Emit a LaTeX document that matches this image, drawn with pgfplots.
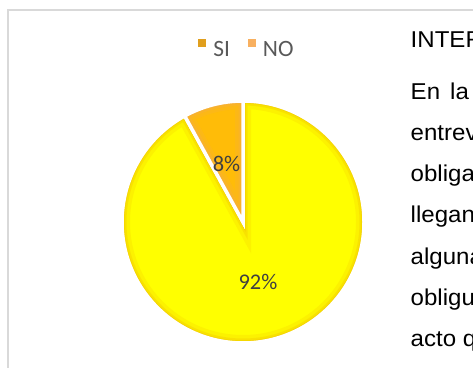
\documentclass[border=0pt]{standalone}
\usepackage{pgfplots}
\pgfplotsset{compat=1.18}
\usepackage{pgfplotstable}
\usepackage{fontspec}
\setmainfont{Liberation Sans}[FakeStretch=1.05]
\newfontfamily\carlito{Carlito}

\definecolor{pieY}{HTML}{FFFF00}
\definecolor{pieYrim}{HTML}{F0C000}
\definecolor{pieO}{HTML}{FFBC08}
\definecolor{pieOrim}{HTML}{F4AC50}
\definecolor{legSI}{HTML}{E09F1E}
\definecolor{legNO}{HTML}{F8B060}
\definecolor{labgray}{HTML}{404040}
\definecolor{leggray}{HTML}{595959}
\definecolor{framegray}{HTML}{D9D9D9}

% pie data: centre (cx,cy), start (percent already used, clockwise from 12 o'clock), value (percent)
\pgfplotstableread{
cx  cy  start value
243 146 0     92
}\siData
\pgfplotstableread{
cx  cy  start value
243 146 92    8
}\noData
% data labels (position and text)
\pgfplotstableread{
lx    ly    txt
258.0 86.5  92\%
226.5 204.5 8\%
}\labData

\def\R{121bp}
\newcommand\wedgepath{%
  \pgfpathmoveto{\pgfpointorigin}%
  \pgfpathlineto{\pgfpointpolar{\aA}{\R}}%
  \pgfpatharc{\aA}{\aB}{\R}%
  \pgfpathclose}
\pgfdeclareplotmark{pieslice}{%
  \pgfmathsetmacro\aA{90-3.6*\pstart}%
  \pgfmathsetmacro\aB{90-3.6*(\pstart+\pval)}%
  \pgfscope
    \wedgepath\pgfsetfillcolor{\bodycol}\pgfusepath{fill}%
  \endpgfscope
  \pgfscope
    \wedgepath\pgfusepath{clip}%
    \wedgepath\pgfsetstrokecolor{\rimcol}\pgfsetstrokeopacity{0.2}\pgfsetlinewidth{16bp}\pgfusepath{stroke}%
    \wedgepath\pgfsetstrokecolor{\rimcol}\pgfsetstrokeopacity{0.3}\pgfsetlinewidth{9bp}\pgfusepath{stroke}%
    \wedgepath\pgfsetstrokecolor{\rimcol}\pgfsetstrokeopacity{0.45}\pgfsetlinewidth{5bp}\pgfusepath{stroke}%
  \endpgfscope
  \pgfscope
    \wedgepath\pgfsetstrokecolor{white}\pgfsetlinewidth{3.5bp}\pgfsetmiterjoin\pgfusepath{stroke}%
  \endpgfscope
}

\begin{document}
\begin{tikzpicture}
\useasboundingbox (0,0) rectangle (473bp,368bp);
\clip (0,0) rectangle (473bp,368bp);
\begin{axis}[
  at={(0,0)}, anchor=south west,
  width=473bp, height=368bp, scale only axis,
  xmin=0, xmax=473, ymin=0, ymax=368,
  hide axis, clip=false,
  legend columns=2,
  legend image code/.code={\fill[#1] (0bp,2bp) rectangle (8bp,10bp);},
  legend style={at={(axis cs:198.3,319.5)}, anchor=west, draw=none, fill=none,
    inner sep=0pt, outer sep=0pt, nodes={inner sep=0pt},
    font=\carlito\fontsize{23.5}{23.5}\selectfont, text=leggray,
    /tikz/every odd column/.append style={column sep=7bp},
    /tikz/every even column/.append style={column sep=18bp}},
]
% frame of the chart area
\draw[framegray, line width=2bp] (axis cs:8,-5) -- (axis cs:8,358) -- (axis cs:480,358);

\def\bodycol{pieY}\def\rimcol{pieYrim}
\addplot[only marks, mark=pieslice, forget plot,
  visualization depends on={\thisrow{start} \as \pstart},
  visualization depends on={\thisrow{value} \as \pval},
] table[x=cx, y=cy] {\siData};
\addplot[only marks, mark=pieslice, forget plot,
  visualization depends on={\thisrow{start} \as \pstart},
  visualization depends on={\thisrow{value} \as \pval},
  /utils/exec={\def\bodycol{pieO}\def\rimcol{pieOrim}},
] table[x=cx, y=cy] {\noData};

\addplot[only marks, mark=none, forget plot, point meta=explicit symbolic,
  nodes near coords, nodes near coords align={center},
  every node near coord/.style={anchor=center, inner sep=0pt, text=labgray, font=\carlito\fontsize{22.5}{22.5}\selectfont},
] table[x=lx, y=ly, meta=txt] {\labData};

\addlegendimage{fill=legSI, draw=none}
\addlegendentry{SI}
\addlegendimage{fill=legNO, draw=none}
\addlegendentry{NO}

% surrounding document text (clipped at the right edge)
\begin{scope}[every node/.style={anchor=base west, inner sep=0pt, font=\fontsize{23}{23}\selectfont, text=black}]
\node at (axis cs:410.5,320.7) {INTERPRETACIÓN};
\node at (axis cs:410.5,268.7) {En};
\node at (axis cs:450,268.7) {la entrevista};
\node at (axis cs:410.5,227.5) {entrevistados};
\node at (axis cs:410.5,186.2) {obligados};
\node at (axis cs:410.5,145) {llegando};
\node at (axis cs:410.5,103.8) {algunas};
\node at (axis cs:410.5,62.5) {obliguen};
\node at (axis cs:410.5,21.3) {acto que};
\end{scope}
\end{axis}
\end{tikzpicture}
\end{document}
